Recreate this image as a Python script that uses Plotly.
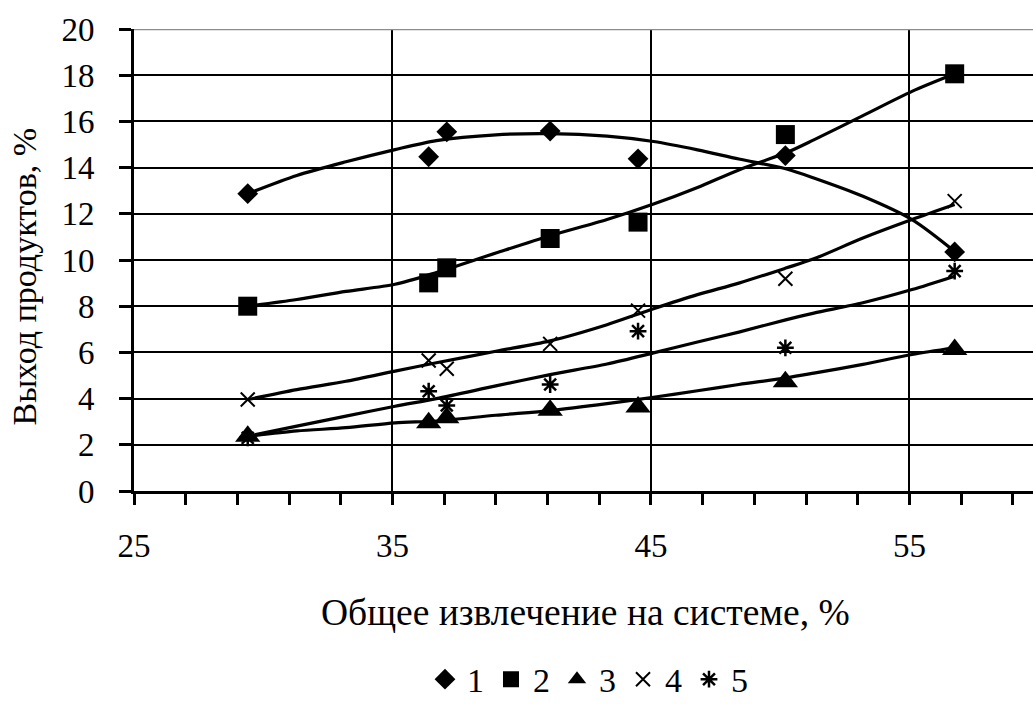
import plotly.graph_objects as go

# ---- data ----
x_pts = [29.4, 36.4, 37.1, 41.1, 44.5, 50.2, 56.75]
s1 = [12.87, 14.47, 15.55, 15.58, 14.38, 14.52, 10.35]
s2 = [8.0, 9.01, 9.66, 10.93, 11.64, 15.43, 18.06]
s3 = [2.37, 2.95, 3.17, 3.5, 3.64, 4.73, 6.13]
s4 = [3.96, 5.65, 5.29, 6.37, 7.81, 9.19, 12.55]
s5 = [2.3, 4.32, 3.7, 4.61, 6.92, 6.2, 9.52]

# trend curves
x_curve = [29.4, 31.3, 33.2, 35.1, 36.7, 39.0, 41.1, 43.3, 45.1, 46.8, 48.4, 50.25, 51.3, 53.2, 55.1, 56.75]
c1 = [12.87, 13.66, 14.25, 14.78, 15.17, 15.42, 15.47, 15.36, 15.13, 14.77, 14.37, 13.94, 13.55, 12.76, 11.75, 10.37]
c2 = [8.0, 8.29, 8.64, 8.95, 9.46, 10.3, 11.05, 11.75, 12.42, 13.14, 13.9, 14.65, 15.2, 16.25, 17.3, 18.06]
c3 = [2.37, 2.6, 2.74, 2.95, 3.03, 3.28, 3.48, 3.78, 4.06, 4.34, 4.61, 4.9, 5.1, 5.48, 5.91, 6.2]
c4 = [3.96, 4.39, 4.75, 5.19, 5.55, 6.05, 6.5, 7.2, 7.89, 8.5, 9.0, 9.66, 10.05, 10.95, 11.75, 12.4]
c5 = [2.37, 2.81, 3.24, 3.67, 4.0, 4.55, 5.04, 5.5, 5.98, 6.45, 6.88, 7.42, 7.7, 8.15, 8.72, 9.3]

names = ["1", "2", "3", "4", "5"]
x_ticks = [25, 35, 45, 55]
y_ticks = list(range(0, 21, 2))

x_title = "Общее извлечение на системе, %"
y_title = "Выход продуктов, %"

FONT = "Liberation Serif"
BLACK = "#000000"

fig = go.Figure()

curves = [c1, c2, c3, c4, c5]
for c in curves:
    fig.add_trace(go.Scatter(
        x=x_curve, y=c, mode="lines",
        line=dict(color=BLACK, width=3.2, shape="spline", smoothing=0.8),
        showlegend=False, hoverinfo="skip"))

series = [s1, s2, s3, s4, s5]
markers = [
    dict(symbol="diamond", size=16, color=BLACK),
    dict(symbol="square", size=19, color=BLACK),
    dict(symbol="triangle-up", size=22, color=BLACK),
    dict(symbol="x-thin-open", size=14, color=BLACK, line=dict(color=BLACK, width=2)),
    dict(symbol="asterisk-open", size=14, color=BLACK, line=dict(color=BLACK, width=2.5)),
]
for s, m, n in zip(series, markers, names):
    fig.add_trace(go.Scatter(x=x_pts, y=s, mode="markers", marker=m, name=n))

# grey top border line at y = 20
fig.add_shape(type="line", xref="paper", yref="y", x0=0, x1=1, y0=20, y1=20,
              line=dict(color="#8c8c8c", width=2.5), layer="above")

fig.add_annotation(text=y_title, xref="paper", yref="paper", x=-0.122, y=0.463,
                   xanchor="center", yanchor="middle",
                   textangle=-90, showarrow=False,
                   font=dict(family=FONT, size=34, color=BLACK))
fig.add_annotation(text=x_title, xref="paper", yref="paper", x=0.5017, y=-0.262,
                   xanchor="center", yanchor="middle",
                   showarrow=False, font=dict(family=FONT, size=37.5, color=BLACK))

fig.update_layout(
    width=1033, height=705,
    margin=dict(l=134, r=0, t=29, b=214),
    paper_bgcolor="white", plot_bgcolor="white",
    font=dict(family=FONT, size=33, color=BLACK),
    legend=dict(orientation="h", xref="paper", x=0.505, xanchor="center",
                yref="container", y=0.036, yanchor="middle",
                font=dict(family=FONT, size=34, color=BLACK),
                itemwidth=34, tracegroupgap=0, bgcolor="rgba(0,0,0,0)"),
)
fig.update_xaxes(
    range=[25, 59.78], tickmode="array", tickvals=x_ticks, ticktext=[str(v) for v in x_ticks],
    ticks="outside", ticklen=11, tickwidth=2.5, tickcolor=BLACK,
    showgrid=True, gridcolor=BLACK, gridwidth=2.2,
    showline=True, linecolor=BLACK, linewidth=3,
    zeroline=False, ticklabelstandoff=12,
    minor=dict(tick0=25, dtick=2, ticks="outside", ticklen=11, tickwidth=2.5,
               tickcolor=BLACK, showgrid=False),
    tickfont=dict(family=FONT, size=33, color=BLACK),
)
fig.update_yaxes(
    range=[0, 20], tickmode="array", tickvals=y_ticks, ticktext=[str(v) for v in y_ticks],
    ticks="outside", ticklen=12, tickwidth=2.5, tickcolor=BLACK,
    showgrid=True, gridcolor=BLACK, gridwidth=2.2,
    showline=True, linecolor=BLACK, linewidth=3,
    zeroline=False, ticklabelstandoff=18,
    tickfont=dict(family=FONT, size=33, color=BLACK),
)

fig.write_html("out.html", config={"displayModeBar": False},
               post_script="document.body.style.margin='0';")
